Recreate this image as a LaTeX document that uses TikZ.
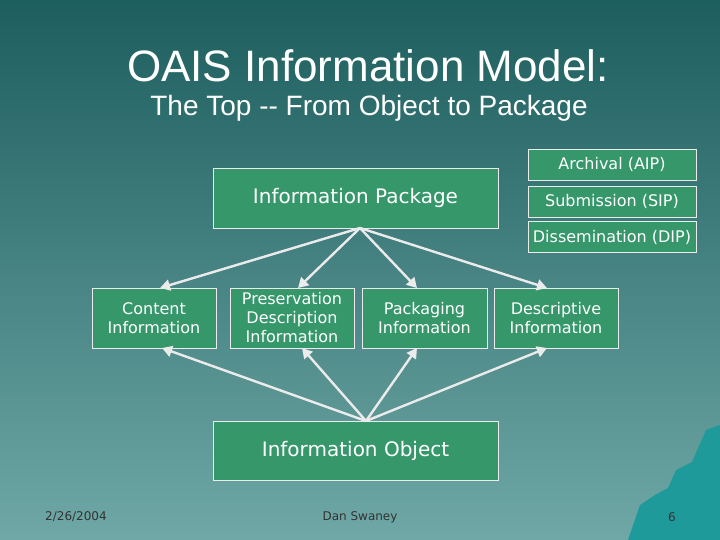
\documentclass[tikz,border=0pt]{standalone}
\usepackage{fontspec}
\setmainfont{DejaVu Sans}
\newfontfamily\titlefont{Liberation Sans}
\usetikzlibrary{arrows.meta}
\definecolor{bgtop}{HTML}{1D5E5E}
\definecolor{bgbot}{HTML}{6FA8A6}
\definecolor{boxg}{HTML}{36986A}
\definecolor{mtn}{HTML}{1E9A9A}
\tikzset{
 box/.style={draw=white!92!black, line width=0.8pt, fill=boxg, text=white, align=center, inner sep=0pt, font=\fontsize{16}{19}\selectfont},
 bigbox/.style={box, font=\fontsize{20}{24}\selectfont},
 conn/.style={draw=white!92!black, line width=2.4pt, -{Triangle[length=10pt,width=11pt]}},
 foot/.style={text=black!80, font=\fontsize{12}{14}\selectfont}
}
\begin{document}
\begin{tikzpicture}[x=1pt,y=-1pt]
\shade[top color=bgtop,bottom color=bgbot] (0,0) rectangle (720,540);
\useasboundingbox (0,0) rectangle (720,540);
\fill[mtn] (720,425) -- (706,430) -- (692,462) -- (676,470) -- (668,488) -- (655,495) -- (640,505) -- (628,540) -- (720,540) -- cycle;
\node[text=white,font=\titlefont\fontsize{44}{48}\selectfont] (t1) at (368,66) {OAIS Information Model:};
\node[text=white,font=\titlefont\fontsize{28}{32}\selectfont] (t2) at (369,108) {The Top -- From Object to Package};
\node[bigbox,minimum width=285pt,minimum height=60pt] (ip) at (355.5,198) {Information Package};
\node[box,minimum width=168pt,minimum height=31pt] (aip) at (612,164.5) {Archival (AIP)};
\node[box,minimum width=168pt,minimum height=31pt] (sip) at (612,201.5) {Submission (SIP)};
\node[box,minimum width=168pt,minimum height=31pt] (dip) at (612,237) {Dissemination (DIP)};
\node[box,minimum width=124pt,minimum height=60pt] (ci) at (154,318) {Content\\Information};
\node[box,minimum width=124pt,minimum height=60pt] (pdi) at (292,318) {Preservation\\Description\\Information};
\node[box,minimum width=125pt,minimum height=60pt] (pi) at (424.5,318) {Packaging\\Information};
\node[box,minimum width=124pt,minimum height=60pt] (di) at (556,318) {Descriptive\\Information};
\node[bigbox,minimum width=285pt,minimum height=59pt] (io) at (355.5,450.5) {Information Object};
\coordinate (ips) at (360,228);
\coordinate (ios) at (366,421);
\draw[conn] (ips) -- (160,288);
\draw[conn] (ips) -- (298,288);
\draw[conn] (ips) -- (417,288);
\draw[conn] (ips) -- (547,288);
\draw[conn] (ios) -- (162,348);
\draw[conn] (ios) -- (302,348);
\draw[conn] (ios) -- (417,348);
\draw[conn] (ios) -- (547,348);
\node[foot] (d) at (76,517) {2/26/2004};
\node[foot] (a) at (360,517) {Dan Swaney};
\node[foot] (p) at (672,517) {6};
\end{tikzpicture}
\end{document}
